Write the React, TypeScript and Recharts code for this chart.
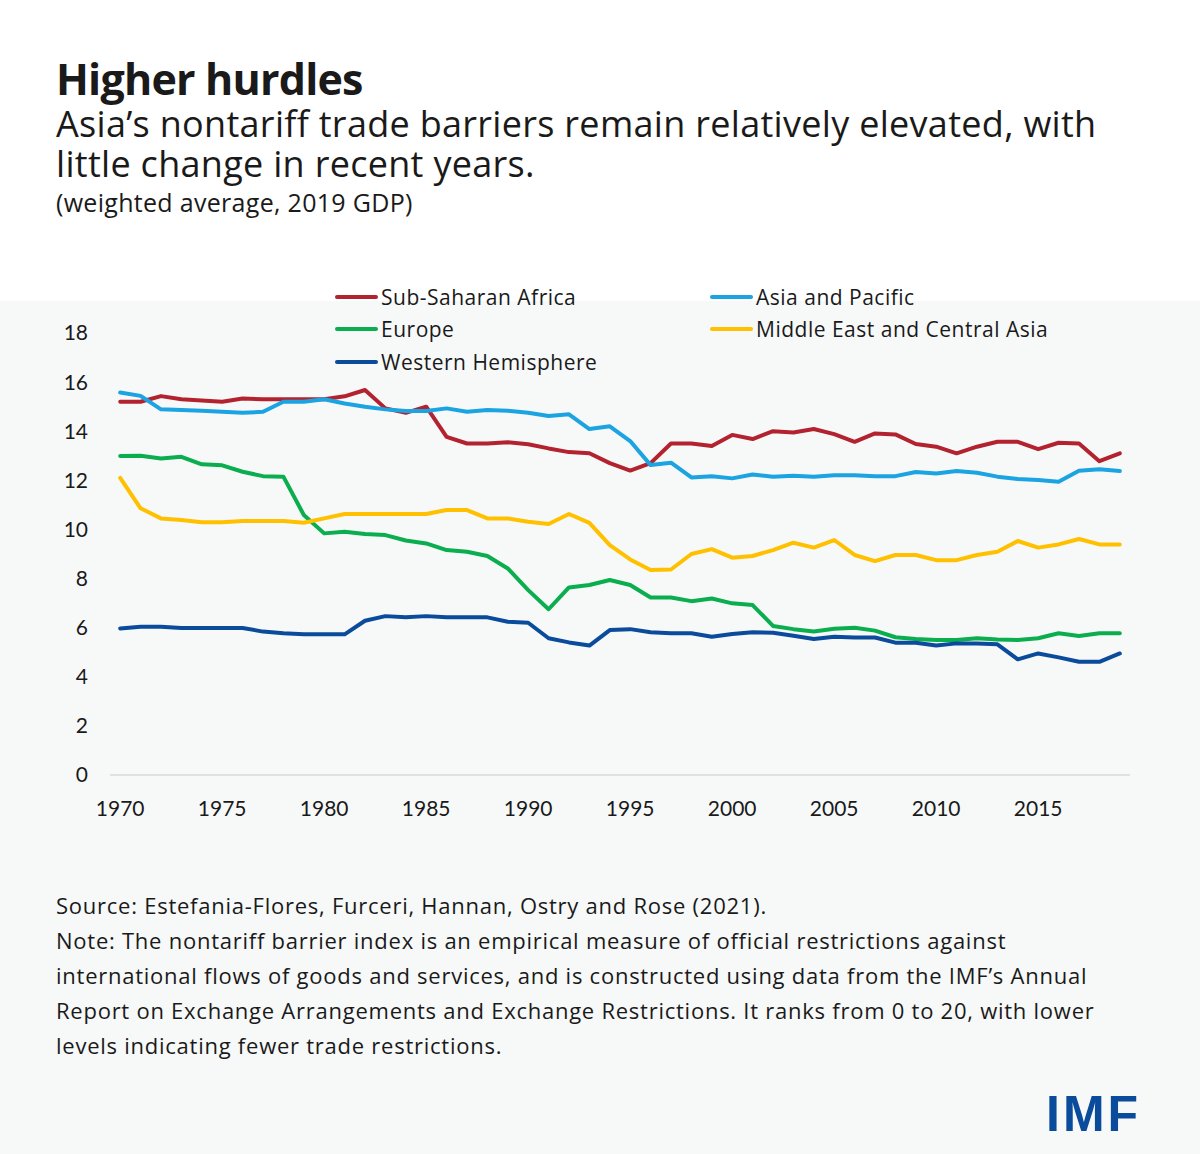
import { LineChart, Line, XAxis, YAxis } from 'recharts';

const years = [
  1970, 1971, 1972, 1973, 1974, 1975, 1976, 1977, 1978, 1979,
  1980, 1981, 1982, 1983, 1984, 1985, 1986, 1987, 1988, 1989,
  1990, 1991, 1992, 1993, 1994, 1995, 1996, 1997, 1998, 1999,
  2000, 2001, 2002, 2003, 2004, 2005, 2006, 2007, 2008, 2009,
  2010, 2011, 2012, 2013, 2014, 2015, 2016, 2017, 2018, 2019,
];

const subSaharanAfrica = [
  15.2, 15.2, 15.43, 15.3, 15.25, 15.2, 15.33, 15.3, 15.3, 15.3,
  15.3, 15.42, 15.68, 14.93, 14.75, 15.0, 13.77, 13.5, 13.5, 13.55,
  13.47, 13.3, 13.15, 13.1, 12.7, 12.4, 12.7, 13.5, 13.5, 13.4,
  13.85, 13.68, 14.0, 13.95, 14.09, 13.88, 13.57, 13.91, 13.87, 13.48,
  13.37, 13.1, 13.37, 13.57, 13.57, 13.27, 13.53, 13.5, 12.78, 13.1,
];

const asiaPacific = [
  15.58, 15.44, 14.89, 14.86, 14.83, 14.79, 14.75, 14.79, 15.2, 15.2,
  15.3, 15.13, 15.0, 14.89, 14.82, 14.82, 14.93, 14.79, 14.86, 14.83,
  14.75, 14.62, 14.69, 14.09, 14.2, 13.6, 12.62, 12.72, 12.12, 12.17,
  12.08, 12.24, 12.15, 12.19, 12.15, 12.21, 12.21, 12.17, 12.17, 12.34,
  12.28, 12.38, 12.31, 12.15, 12.05, 12.01, 11.94, 12.39, 12.45, 12.38,
];

const europe = [
  12.99, 13.0, 12.89, 12.96, 12.65, 12.61, 12.35, 12.17, 12.15, 10.59,
  9.84, 9.91, 9.81, 9.77, 9.55, 9.43, 9.16, 9.09, 8.92, 8.41,
  7.53, 6.75, 7.64, 7.74, 7.94, 7.74, 7.23, 7.23, 7.08, 7.19,
  6.99, 6.92, 6.07, 5.94, 5.84, 5.96, 6.0, 5.88, 5.61, 5.54,
  5.5, 5.5, 5.57, 5.52, 5.5, 5.57, 5.77, 5.66, 5.77, 5.77,
];

const middleEastCentralAsia = [
  12.1, 10.86, 10.45, 10.38, 10.29, 10.29, 10.34, 10.34, 10.34, 10.27,
  10.45, 10.63, 10.63, 10.63, 10.63, 10.63, 10.79, 10.79, 10.45, 10.45,
  10.31, 10.22, 10.63, 10.27, 9.36, 8.78, 8.35, 8.37, 9.0, 9.2,
  8.85, 8.92, 9.16, 9.46, 9.26, 9.57, 8.96, 8.71, 8.96, 8.96,
  8.75, 8.75, 8.96, 9.09, 9.53, 9.26, 9.39, 9.61, 9.39, 9.39,
];

const westernHemisphere = [
  5.97, 6.04, 6.04, 5.99, 5.99, 5.99, 5.99, 5.84, 5.77, 5.73,
  5.73, 5.73, 6.28, 6.47, 6.42, 6.47, 6.42, 6.42, 6.42, 6.24,
  6.2, 5.57, 5.4, 5.27, 5.9, 5.94, 5.81, 5.77, 5.77, 5.63,
  5.74, 5.81, 5.79, 5.67, 5.54, 5.63, 5.6, 5.6, 5.39, 5.39,
  5.27, 5.36, 5.36, 5.32, 4.71, 4.95, 4.79, 4.61, 4.61, 4.95,
];

const xTicks = [1970, 1975, 1980, 1985, 1990, 1995, 2000, 2005, 2010, 2015];
const yTicks = [0, 2, 4, 6, 8, 10, 12, 14, 16, 18];

const series = [
  { key: 'ssa', name: 'Sub-Saharan Africa', color: '#b3232f', values: subSaharanAfrica },
  { key: 'apd', name: 'Asia and Pacific', color: '#1ba3e2', values: asiaPacific },
  { key: 'eur', name: 'Europe', color: '#0aae4e', values: europe },
  { key: 'mcd', name: 'Middle East and Central Asia', color: '#ffc000', values: middleEastCentralAsia },
  { key: 'whd', name: 'Western Hemisphere', color: '#0b4b9b', values: westernHemisphere },
];

const data = years.map((year, i) => {
  const row: Record<string, number> = { year };
  series.forEach((s) => {
    row[s.key] = s.values[i];
  });
  return row;
});

// legend slots: [left of sample line, vertical center]
const legendPos: Record<string, [number, number]> = {
  ssa: [335, 297],
  apd: [710, 297],
  eur: [335, 329],
  mcd: [710, 329],
  whd: [335, 362],
};

const textFont = '"Open Sans", Lato, sans-serif';
const axisFont = 'Lato, "Open Sans", sans-serif';

const App = () => {
  return (
    <div
      style={{
        position: 'absolute',
        left: 0,
        top: 0,
        width: 1200,
        height: 1154,
        background: '#ffffff',
        fontFamily: textFont,
        color: '#1a1a1a',
        overflow: 'hidden',
      }}
    >
      <div style={{ position: 'absolute', left: 0, top: 301, width: 1200, height: 853, background: '#f7f9f9' }} />

      <div style={{ position: 'absolute', left: 56, top: 57, fontSize: 43, fontWeight: 700, lineHeight: '44px', letterSpacing: -0.8, whiteSpace: 'nowrap' }}>
        Higher hurdles
      </div>
      <div style={{ position: 'absolute', left: 56, top: 104, fontSize: 36, lineHeight: '40px', letterSpacing: 0.3, whiteSpace: 'nowrap' }}>
        Asia’s nontariff trade barriers remain relatively elevated, with
      </div>
      <div style={{ position: 'absolute', left: 56, top: 144, fontSize: 36, lineHeight: '40px', letterSpacing: 0.3, whiteSpace: 'nowrap' }}>
        little change in recent years.
      </div>
      <div style={{ position: 'absolute', left: 56, top: 187, fontSize: 25, lineHeight: '30px', letterSpacing: 0.3, whiteSpace: 'nowrap' }}>
        (weighted average, 2019 GDP)
      </div>

      <div style={{ position: 'absolute', left: 0, top: 0 }}>
        <LineChart
          width={1200}
          height={830}
          data={data}
          margin={{ top: 333, right: 70, bottom: 25, left: 50 }}
          style={{ fontFamily: axisFont }}
        >
          <XAxis
            dataKey="year"
            type="number"
            domain={[1969.5, 2019.5]}
            ticks={xTicks}
            axisLine={{ stroke: '#d9d9d9', strokeWidth: 1.5 }}
            tickLine={false}
            tickSize={0}
            tickMargin={26}
            height={30}
            tick={{ fill: '#1a1a1a', fontSize: 21 }}
          />
          <YAxis
            domain={[0, 18]}
            ticks={yTicks}
            width={60}
            axisLine={false}
            tickLine={false}
            tickSize={0}
            tickMargin={22}
            tick={{ fill: '#1a1a1a', fontSize: 21 }}
          />
          {series.map((s) => (
            <Line
              key={s.key}
              dataKey={s.key}
              name={s.name}
              type="linear"
              stroke={s.color}
              strokeWidth={4}
              strokeLinejoin="round"
              strokeLinecap="round"
              dot={false}
              isAnimationActive={false}
            />
          ))}
        </LineChart>
      </div>

      {series.map((s) => {
        const [lx, ly] = legendPos[s.key];
        return (
          <div key={s.key} style={{ position: 'absolute', left: lx, top: ly - 14, height: 28, display: 'flex', alignItems: 'center' }}>
            <div style={{ width: 43, height: 4, borderRadius: 2, background: s.color, marginRight: 3 }} />
            <span style={{ fontSize: 21, letterSpacing: 0.5, color: '#1a1a1a', whiteSpace: 'nowrap' }}>{s.name}</span>
          </div>
        );
      })}

      <div style={{ position: 'absolute', left: 56, top: 888, fontSize: 22, lineHeight: '35px', width: 1140, letterSpacing: 0.75, whiteSpace: 'nowrap' }}>
        Source: Estefania-Flores, Furceri, Hannan, Ostry and Rose (2021).
        <br />
        Note: The nontariff barrier index is an empirical measure of official restrictions against
        <br />
        international flows of goods and services, and is constructed using data from the IMF’s Annual
        <br />
        Report on Exchange Arrangements and Exchange Restrictions. It ranks from 0 to 20, with lower
        <br />
        levels indicating fewer trade restrictions.
      </div>

      <div
        style={{
          position: 'absolute',
          left: 1046,
          top: 1086,
          fontFamily: '"Liberation Sans", Arial, sans-serif',
          fontWeight: 700,
          fontSize: 50,
          lineHeight: '56px',
          letterSpacing: 3,
          color: '#0b4b9b',
        }}
      >
        IMF
      </div>
    </div>
  );
};

export default App;
